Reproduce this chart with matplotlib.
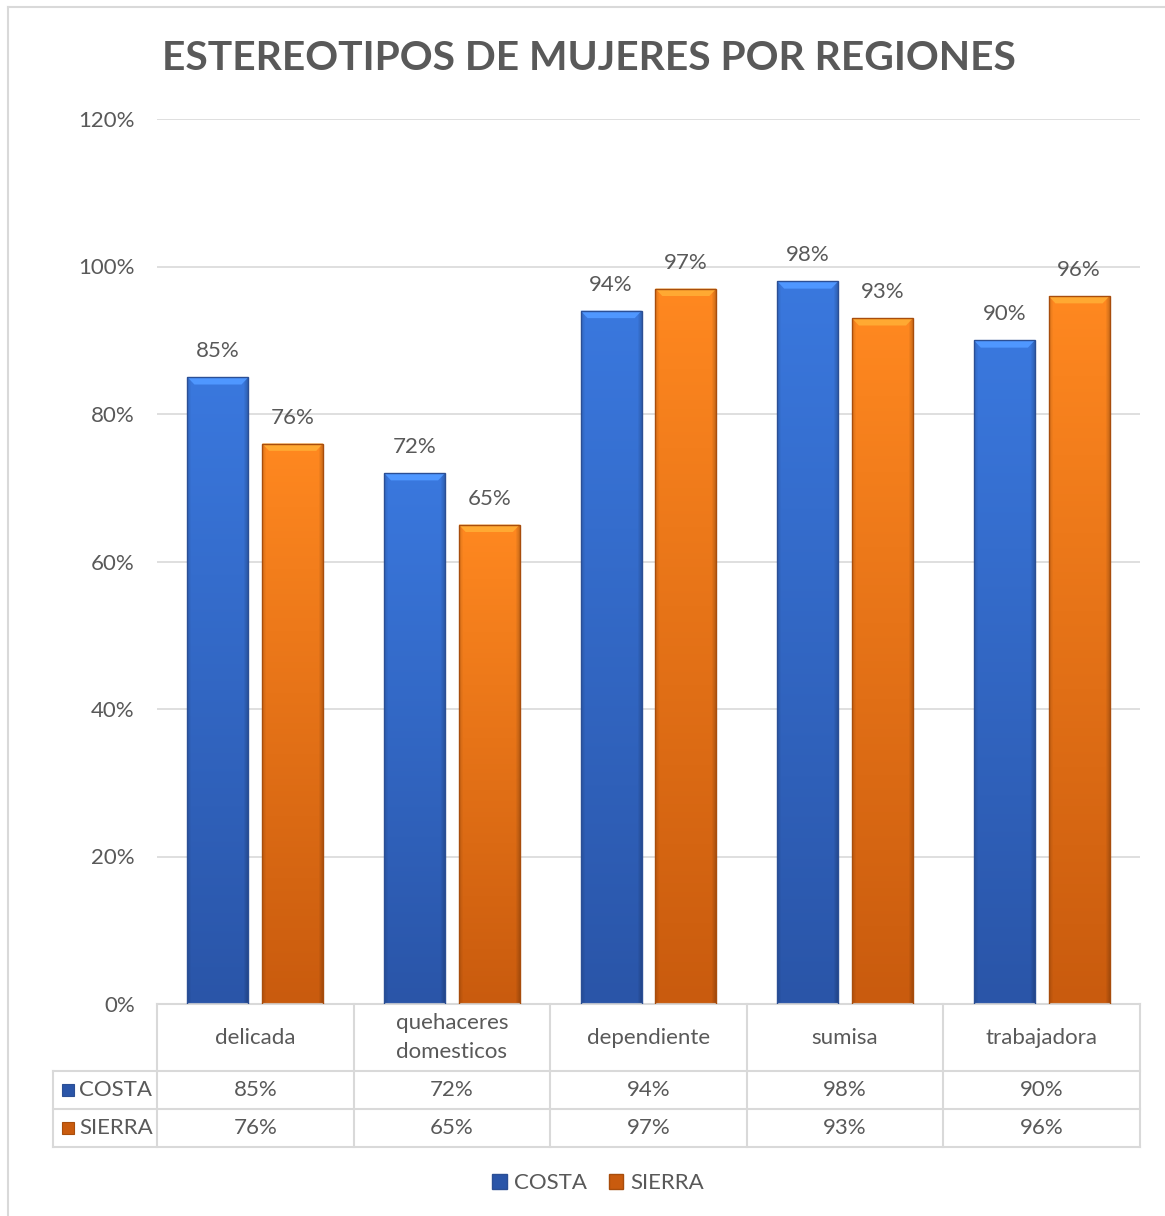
import matplotlib.pyplot as plt
import numpy as np
from matplotlib.patches import Rectangle, Patch
from matplotlib.lines import Line2D
import matplotlib.transforms as mtransforms

plt.rcParams['font.family'] = ['Lato', 'DejaVu Sans']

categories = ["delicada", "quehaceres\ndomesticos", "dependiente", "sumisa", "trabajadora"]
series_names = ["COSTA", "SIERRA"]
costa = [85, 72, 94, 98, 90]
sierra = [76, 65, 97, 93, 96]
yticks = [0, 20, 40, 60, 80, 100, 120]

TXT = "#595959"
GRID = "#d9d9d9"
FS = 16
# (top colour, bottom colour, edge colour) per series
palette = {
    "COSTA": ("#3a78de", "#2a55a8", "#2b4f95"),
    "SIERRA": ("#ff8820", "#c95b0e", "#a84d0c"),
}

W, H = 1165, 1216
fig = plt.figure(figsize=(W / 100, H / 100), dpi=100)
ax = fig.add_axes([157 / W, 1 - 1004 / H, 983 / W, 885 / H])

x = np.arange(len(categories))
bw = 0.31
off = 0.19


def hex2rgb(h):
    h = h.lstrip('#')
    return np.array([int(h[i:i + 2], 16) / 255 for i in (0, 2, 4)])


def shade_bar(bar, name):
    top, bot, edge = palette[name]
    t, b = hex2rgb(top), hex2rgb(bot)
    x0, w, h = bar.get_x(), bar.get_width(), bar.get_height()
    v = np.linspace(1, 0, 200)[:, None, None]
    img = b + (t - b) * v
    img = np.repeat(img, 60, axis=1)
    hor = np.ones(60)
    hor[:5] = np.linspace(0.88, 1.0, 5)
    hor[-5:] = np.linspace(1.0, 0.82, 5)
    img = np.clip(img * hor[None, :, None], 0, 1)
    im = ax.imshow(img, extent=[x0, x0 + w, 0, h], aspect='auto', zorder=2)
    im.set_clip_path(bar)
    # top bevel
    dx, dy = 0.035, 1.0
    ax.fill([x0, x0 + w, x0 + w - dx, x0 + dx], [h, h, h - dy, h - dy],
            color=np.clip(t * 1.15 + 0.05, 0, 1), zorder=3, lw=0)
    ax.add_patch(Rectangle((x0, 0), w, h, fill=False, ec=edge, lw=1, zorder=4))


for vals, name, sign in [(costa, "COSTA", -1), (sierra, "SIERRA", 1)]:
    bars = ax.bar(x + sign * off, vals, bw, color=palette[name][0], zorder=1)
    for bar, v in zip(bars, vals):
        shade_bar(bar, name)
        ax.text(bar.get_x() + bar.get_width() / 2, v + 3.5, f"{v}%",
                ha='center', va='center', fontsize=FS, color=TXT)

ax.set_xlim(-0.5, len(categories) - 0.5)
ax.set_ylim(0, 120)
ax.set_yticks(yticks)
ax.set_yticklabels([f"{t}%" for t in yticks], fontsize=FS, color=TXT)
ax.tick_params(axis='y', length=0, pad=16)
ax.set_xticks([])
ax.yaxis.grid(True, color=GRID, lw=1.2)
ax.set_axisbelow(True)
for s in ax.spines.values():
    s.set_visible(False)

# data table under the axis
tr = mtransforms.blended_transform_factory(ax.transData, ax.transAxes)
y_cat = -67 / 885
y_r1 = -105 / 885
y_r2 = -143 / 885
x_lab = -0.5 - 104 / 196.6
lk = dict(color=GRID, lw=1.5, transform=tr, clip_on=False)
ax.add_line(Line2D([-0.5, 4.5], [0, 0], **lk))
for yy in (y_cat, y_r1, y_r2):
    ax.add_line(Line2D([x_lab, 4.5], [yy, yy], **lk))
for xx in np.arange(-0.5, 5.0, 1.0):
    ax.add_line(Line2D([xx, xx], [0, y_r2], **lk))
ax.add_line(Line2D([x_lab, x_lab], [y_cat, y_r2], **lk))

for i, c in enumerate(categories):
    ax.text(i, y_cat / 2, c, ha='center', va='center', fontsize=FS,
            color=TXT, transform=tr, linespacing=1.6)
rows = [(costa, "COSTA", (y_cat + y_r1) / 2), (sierra, "SIERRA", (y_r1 + y_r2) / 2)]
for vals, name, yc in rows:
    for i, v in enumerate(vals):
        ax.text(i, yc, f"{v}%", ha='center', va='center', fontsize=FS,
                color=TXT, transform=tr)
    ax.add_patch(Rectangle((x_lab + 9 / 196.6, yc - 6 / 885), 12 / 196.6, 12 / 885,
                           transform=tr, clip_on=False, fc=palette[name][1],
                           ec=palette[name][2], lw=0.8))
    ax.text(x_lab + 26 / 196.6, yc, name, ha='left', va='center', fontsize=FS,
            color=TXT, transform=tr)

ax.set_title("ESTEREOTIPOS DE MUJERES POR REGIONES", fontsize=29.3, fontweight='bold',
             color=TXT, pad=0, y=(1004 - 59) / 885, va='center', x=(589 - 157) / 983)

handles = [Patch(fc=palette[n][1], ec=palette[n][2], label=n) for n in series_names]
fig.legend(handles=handles, loc='center', bbox_to_anchor=(598 / W, 1 - 1183 / H),
           ncol=2, frameon=False, fontsize=FS, handlelength=0.65, handleheight=0.65,
           handletextpad=0.3, columnspacing=1.0, labelcolor=TXT)

# chart area border
fig.add_artist(Line2D([8 / W, 8 / W], [0, 1 - 7 / H], color=GRID, lw=1.5))
fig.add_artist(Line2D([8 / W, 1], [1 - 7 / H, 1 - 7 / H], color=GRID, lw=1.5))

fig.savefig("out.png", dpi=100)
